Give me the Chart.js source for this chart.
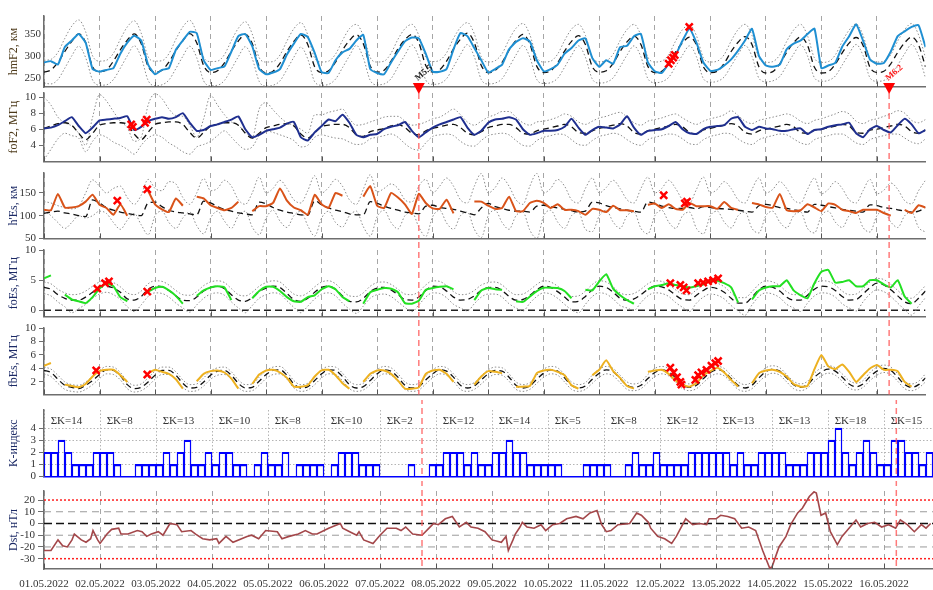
<!DOCTYPE html>
<html>
<head>
<meta charset="utf-8">
<script src="https://cdn.jsdelivr.net/npm/chart.js@4.4.1/dist/chart.umd.min.js"></script>
<style>
  body { margin: 0; background: #fff; width: 933px; height: 590px; overflow: hidden; position: relative; }
  canvas { position: absolute; left: 0; }
</style>
</head>
<body>
<script>
// ---- data: 3-hour samples, 8 per day, 01.05.2022 00 UT .. 16.05.2022 21 UT ----
const dayLabels = ["01.05.2022","02.05.2022","03.05.2022","04.05.2022","05.05.2022","06.05.2022","07.05.2022","08.05.2022",
  "09.05.2022","10.05.2022","11.05.2022","12.05.2022","13.05.2022","14.05.2022","15.05.2022","16.05.2022"];
const dayTicks = [0,1,2,3,4,5,6,7,8,9,10,11,12,13,14,15];

// hmF2, km
const hmObs = [
  285,288,280,320,335,350,330,270, 264,268,272,305,330,346,335,280, 258,268,272,314,335,355,352,290,
  268,272,276,310,345,350,322,270, 258,262,270,303,328,350,343,307, 263,261,290,308,316,335,348,270,
  261,258,285,310,333,342,340,305, 264,264,270,315,352,345,318,290, 262,270,280,315,332,340,333,290,
  265,270,280,305,318,335,340,295, 275,290,282,320,323,345,350,285, 265,261,282,302,335,362,330,285,
  266,268,278,292,312,335,362,300, 278,275,280,315,328,335,350,362, 272,278,284,321,345,372,335,292,
  282,284,310,345,356,366,370,320];
const hmMed = [
  263,268,285,310,333,350,330,275, 264,268,288,314,336,350,328,276, 263,267,286,312,335,351,330,278,
  262,266,284,311,334,349,328,276, 261,265,283,310,333,348,326,275, 262,266,286,313,335,348,328,277,
  263,267,288,316,337,349,330,278, 263,268,288,316,338,352,330,278, 262,267,285,313,335,349,327,276,
  262,266,284,311,333,346,326,275, 263,266,283,310,332,345,326,276, 262,265,282,309,330,343,325,275,
  262,265,283,310,331,344,326,275, 261,264,282,308,330,343,324,274, 261,264,281,307,329,342,324,274,
  262,265,282,308,330,343,325,275];
const hmUp = [
  290,292,308,340,368,382,355,300, 288,290,306,338,366,380,352,298, 288,289,305,338,366,381,352,297,
  287,288,303,335,363,378,350,296, 286,287,302,334,362,376,348,295, 286,288,304,335,362,372,346,296,
  286,288,306,338,362,372,347,297, 287,290,307,340,365,376,350,298, 286,289,305,337,363,374,348,297,
  286,288,304,335,361,372,347,296, 287,289,304,335,360,372,347,297, 286,288,303,334,360,371,346,296,
  286,288,303,334,360,372,347,296, 285,287,302,333,359,372,346,295, 285,287,302,333,359,373,347,295,
  286,288,303,334,360,374,348,296];
const hmLo = [
  238,236,246,272,300,322,296,245, 233,234,246,272,300,323,297,244, 232,234,245,271,299,322,296,243,
  232,233,244,270,298,321,294,242, 231,233,243,269,297,320,293,241, 233,235,247,273,300,324,296,244,
  234,236,248,275,302,325,297,245, 235,237,248,275,303,326,298,246, 236,238,248,274,302,324,297,246,
  237,239,249,274,301,323,297,247, 238,240,250,275,302,323,298,248, 239,241,251,276,302,323,298,248,
  240,242,252,277,303,324,299,249, 241,243,253,278,304,325,300,250, 242,244,254,279,305,326,301,250,
  242,244,254,279,305,326,301,250];
const hmMarkX = [11.25, 11.29, 11.33, 11.36, 11.62];
const hmMarkY = [282, 290, 296, 302, 366];

// foF2, MHz
const foObs = [
  6.1,6.2,6.5,7.0,7.5,6.4,5.5,6.2, 7.1,7.2,7.3,7.4,7.6,5.9,6.3,7.0, 7.3,7.5,7.3,7.5,8.0,6.8,5.8,5.9,
  6.4,6.6,6.9,7.2,7.6,6.0,5.0,5.3, 5.8,6.0,6.2,6.7,6.9,5.0,4.6,5.6, 6.4,7.2,7.0,7.8,6.8,5.3,5.0,5.3,
  5.4,6.0,6.3,6.5,6.9,5.8,5.0,5.6, 6.2,6.6,6.9,7.2,7.5,6.2,5.3,5.8, 6.8,7.2,7.3,7.5,7.2,6.0,5.3,5.5,
  5.8,5.8,5.9,6.3,7.3,6.2,5.3,5.9, 6.3,6.2,6.1,6.6,7.6,6.2,5.3,5.8, 5.9,6.0,6.4,6.9,6.0,5.5,5.4,6.0,
  6.3,6.4,6.5,7.3,7.5,6.3,5.9,6.3, 6.1,6.0,5.8,5.8,6.0,6.1,5.4,5.9, 6.0,6.3,6.5,6.6,6.8,5.5,5.0,6.0,
  6.4,5.9,5.6,6.5,7.3,6.6,5.5,5.9];
const foMed = [
  6.1,6.4,6.7,6.8,6.5,5.5,4.7,5.5, 6.5,6.7,6.8,6.8,6.6,5.4,4.7,5.6, 6.6,6.8,6.9,6.9,6.6,5.6,4.9,5.6,
  6.4,6.6,6.8,6.8,6.5,5.5,4.9,5.5, 6.2,6.4,6.6,6.7,6.4,5.4,4.9,5.6, 6.3,6.5,6.6,6.6,6.2,5.3,5.1,5.7,
  5.9,6.1,6.4,6.6,6.2,5.5,5.3,5.8, 6.1,6.3,6.5,6.6,6.2,5.5,5.3,5.7, 6.2,6.4,6.6,6.6,6.2,5.5,5.4,5.8,
  6.0,6.2,6.4,6.6,6.3,5.6,5.5,5.8, 6.1,6.3,6.5,6.7,6.4,5.6,5.4,5.8, 6.0,6.2,6.4,6.6,6.3,5.6,5.4,5.9,
  6.1,6.3,6.5,6.7,6.4,5.6,5.4,5.8, 6.0,6.2,6.4,6.6,6.3,5.6,5.5,5.9, 6.0,6.2,6.4,6.6,6.4,5.6,5.5,5.9,
  6.0,6.2,6.4,6.6,6.4,5.7,5.5,5.9];
const foUp = [
  10.0,9.0,7.5,6.8,6.4,5.5,4.0,7.5, 10.3,9.5,8.2,7.0,6.2,4.5,5.0,9.0, 10.4,9.8,8.5,7.7,7.6,6.5,5.0,7.3,
  10.2,9.0,7.8,6.9,6.5,5.6,5.0,8.5, 9.3,8.4,7.5,6.8,6.5,6.0,5.5,7.8, 7.8,8.1,8.3,8.5,7.3,6.5,6.6,6.9,
  7.2,7.5,7.6,7.6,7.0,6.5,6.6,6.9, 7.3,7.5,8.0,8.5,7.8,6.9,6.5,7.0, 7.5,7.8,8.2,8.2,7.5,6.8,6.5,6.9,
  7.0,7.2,7.5,7.9,7.6,6.9,6.6,7.0, 7.4,7.6,7.9,8.1,7.5,6.8,6.5,7.0, 7.2,7.4,7.7,7.9,7.4,6.9,6.6,7.0,
  7.3,7.5,7.8,8.3,7.7,7.0,6.7,7.1, 7.3,7.5,7.7,7.9,7.6,7.0,6.7,7.1, 7.3,7.6,7.9,8.2,7.9,7.0,6.7,7.1,
  7.3,7.6,7.9,8.3,8.0,7.1,6.8,7.2];
const foLo = [
  2.2,3.5,4.8,5.5,5.2,4.9,3.2,4.5, 5.3,5.0,4.4,4.0,3.5,2.9,4.0,4.9, 5.3,5.0,4.3,3.8,3.2,2.9,3.8,4.1,
  4.5,5.2,5.8,5.0,4.1,3.5,3.8,5.2, 5.8,5.6,5.3,5.0,4.6,3.8,4.0,5.0, 5.3,5.1,4.9,4.8,4.4,4.1,4.2,4.8,
  5.0,5.2,5.4,5.0,4.2,3.6,3.4,4.3, 5.1,5.3,5.4,5.2,4.5,4.0,3.9,4.6, 5.2,5.4,5.5,5.3,4.6,4.0,3.9,4.6,
  5.0,5.2,5.4,5.3,4.7,4.1,4.0,4.6, 5.1,5.3,5.5,5.3,4.7,4.2,4.0,4.7, 5.0,5.2,5.4,5.3,4.8,4.2,4.1,4.7,
  5.1,5.3,5.5,5.4,4.8,4.3,4.1,4.7, 5.0,5.2,5.4,5.3,4.8,4.3,4.1,4.7, 5.0,5.2,5.4,5.4,4.9,4.3,4.1,4.7,
  5.0,5.2,5.4,5.4,4.9,4.4,4.2,4.8];
const foMarkX = [1.57, 1.60, 1.82, 1.85];
const foMarkY = [6.6, 6.3, 6.8, 7.2];

// h'Es, km
const hesObs = [
  113,112,148,118,118,121,131,146, 124,117,102,125,100,null,null,155, 125,114,108,138,122,null,142,138,
  123,117,112,117,131,null,110,121, 121,128,160,133,118,112,102,146, 125,117,150,144,null,null,142,165,
  122,117,150,140,125,104,148,128, 116,115,135,105,null,null,131,131, 122,115,117,142,110,110,128,133,
  128,117,125,113,113,110,102,115, 113,108,122,112,112,110,null,124, 127,117,125,115,113,128,121,121,
  121,115,130,117,113,null,128,125, 119,118,148,112,110,112,125,118, 110,127,124,113,110,106,113,113,
  113,106,100,null,113,106,123,118];
const hesMed = [
  105,108,110,106,104,100,98,135, 128,118,112,108,105,102,100,128, 130,120,112,108,106,104,102,132,
  128,120,114,110,106,104,102,130, 126,118,112,108,105,102,101,133, 124,117,112,109,104,102,102,131,
  127,121,116,112,108,106,104,121, 123,118,116,114,110,106,102,117, 127,120,116,112,110,110,108,121,
  123,120,117,114,111,108,110,130, 128,122,118,115,112,110,108,130, 127,121,118,116,116,118,115,120,
  118,116,115,114,112,110,108,122, 125,122,118,116,113,110,108,125, 123,120,117,114,112,110,108,124,
  122,118,116,113,110,108,110,118];
const hesUp = [
  131,128,122,118,115,120,150,179, 165,150,160,165,140,125,145,180, 160,155,175,170,140,125,150,182,
  155,160,178,165,135,125,150,185, 150,160,178,160,135,128,155,188, 150,162,180,165,135,125,158,190,
  152,160,170,160,135,130,165,180, 150,165,183,165,135,128,165,193, 150,162,183,165,135,125,165,193,
  150,160,180,165,135,128,160,183, 150,162,178,160,135,128,160,185, 150,160,178,160,135,128,158,185,
  150,158,175,160,135,128,158,183, 150,158,175,160,135,128,158,183, 148,158,175,160,135,128,155,180,
  148,156,172,158,133,126,155,178];
const hesLo = [
  112,100,85,72,85,100,95,100, 110,105,85,70,90,105,80,58, 100,110,85,72,95,108,78,60,
  95,110,88,72,100,110,75,58, 95,112,88,74,100,110,78,55, 95,110,85,75,100,110,76,55,
  98,112,85,71,100,108,75,54, 98,112,84,70,100,108,70,52, 100,112,85,70,100,108,68,50,
  100,112,86,72,100,108,70,65, 100,112,86,72,100,108,72,60, 100,112,86,72,100,108,72,60,
  100,110,86,73,100,108,72,62, 100,110,86,73,100,108,72,62, 100,110,86,74,100,108,74,64,
  100,110,86,74,100,108,74,64];
const hesMarkX = [1.32, 1.86, 11.16, 11.54, 11.58];
const hesMarkY = [133, 158, 145, 127, 131];

// foEs, MHz
const foesObs = [
  5.3,5.8,null,2.6,1.8,1.5,1.2,2.2, 3.6,4.5,4.0,2.2,1.5,null,null,3.1, 3.7,3.9,3.3,2.4,1.1,null,2.4,3.3,
  3.8,4.0,3.8,1.7,null,null,2.0,3.2, 3.9,3.9,3.2,2.2,1.5,1.4,2.2,2.5, 3.5,4.0,3.5,2.2,1.5,null,1.1,3.0,
  3.4,3.7,3.6,3.0,1.2,1.1,1.6,3.4, 3.7,3.9,4.0,3.5,null,null,1.7,3.3, 3.7,3.5,3.4,null,1.5,1.4,2.3,3.2,
  3.75,3.75,3.7,3.2,2.0,null,3.4,3.3, 4.8,6.0,3.6,2.5,1.7,1.1,null,3.5, 4.0,4.2,4.5,4.2,4.0,3.8,4.0,4.3,
  5.0,4.9,4.5,3.8,1.3,null,1.8,3.3, 3.8,4.0,4.0,5.0,3.3,2.5,2.0,4.5, 6.4,6.7,4.6,4.7,5.0,4.0,4.0,5.0,
  5.0,4.3,3.8,5.0,2.3,1.1,null,3.2];
const foesMed = [
  3.8,3.5,2.6,2.0,1.7,1.7,2.2,3.0, 3.75,4.0,3.7,3.0,1.9,1.7,2.3,3.5, 4.0,3.9,3.3,2.4,1.7,1.6,2.2,3.2,
  3.8,4.0,3.6,2.6,1.7,1.5,2.1,3.1, 3.7,4.0,3.8,2.8,1.8,1.5,2.0,3.0, 3.8,4.0,3.5,2.4,1.5,1.4,2.0,3.1,
  3.7,3.8,3.4,2.6,1.8,1.7,2.2,3.3, 4.0,3.9,3.2,2.2,1.7,1.8,2.4,3.3, 3.75,3.8,3.3,2.3,1.7,1.8,2.5,3.4,
  4.0,3.8,3.1,2.2,1.4,1.5,2.3,3.4, 4.0,3.8,3.0,2.0,1.7,1.9,2.6,3.5, 4.0,3.9,3.4,2.5,1.8,1.7,2.5,3.3,
  3.8,3.6,3.0,2.0,1.2,1.2,2.2,3.4, 4.0,3.8,3.2,2.2,1.7,1.7,2.5,3.5, 4.0,3.9,3.3,2.3,1.7,1.8,2.7,3.8,
  4.5,4.2,3.4,2.4,1.4,1.1,2.0,3.2];
const foesUp = [
  4.7,4.4,3.5,2.9,2.6,2.7,3.2,4.0, 4.7,4.9,4.6,3.9,2.9,2.6,3.2,4.4, 4.9,4.8,4.2,3.3,2.6,2.5,3.1,4.1,
  4.7,4.9,4.6,3.6,2.6,2.4,3.0,4.0, 4.6,4.9,4.7,3.7,2.7,2.4,2.9,3.9, 4.7,4.9,4.4,3.3,2.4,2.3,2.9,4.0,
  4.6,4.7,4.3,3.5,2.7,2.6,3.1,4.2, 4.9,4.8,4.1,3.1,2.6,2.7,3.3,4.2, 4.6,4.7,4.2,3.2,2.6,2.7,3.4,4.3,
  4.9,4.7,4.0,3.1,2.3,2.4,3.2,4.3, 4.9,4.7,3.9,2.9,2.6,2.8,3.5,4.4, 4.9,4.8,4.3,3.4,2.7,2.6,3.4,4.2,
  4.7,4.5,3.9,2.9,2.1,2.1,3.1,4.3, 4.9,4.7,4.1,3.1,2.6,2.6,3.4,4.4, 4.9,4.8,4.2,3.2,2.6,2.7,3.6,4.7,
  5.3,5.1,4.3,3.3,2.3,2.0,2.9,4.1];
const foesLo = [
  2.8,2.4,1.4,0.6,-0.4,0.3,1.0,2.0, 2.7,3.0,2.6,1.8,0.6,-0.2,0.9,2.3, 2.9,2.8,2.2,1.2,0.4,-0.3,0.9,2.0,
  2.7,2.9,2.5,1.4,0.4,-0.4,0.8,2.0, 2.6,2.9,2.7,1.6,0.5,-0.4,0.7,1.9, 2.7,2.9,2.4,1.2,0.2,-0.5,0.7,2.0,
  2.6,2.7,2.3,1.4,0.5,-0.2,0.9,2.2, 2.9,2.8,2.1,1.0,0.4,-0.1,1.1,2.2, 2.7,2.7,2.2,1.1,0.4,-0.1,1.2,2.3,
  2.9,2.7,2.0,1.0,0.1,-0.4,1.0,2.3, 2.9,2.7,1.9,0.8,0.4,0.0,1.3,2.4, 2.9,2.8,2.3,1.3,0.5,-0.2,1.2,2.2,
  2.7,2.5,1.9,0.8,-0.1,-0.8,0.9,2.3, 2.9,2.7,2.1,1.0,0.4,-0.2,1.2,2.4, 2.9,2.8,2.2,1.1,0.4,-0.1,1.4,2.7,
  3.4,3.1,2.3,1.2,0.1,-0.8,0.7,2.1];
const foesMarkX = [0.96, 1.10, 1.17, 1.86, 11.28, 11.46, 11.52, 11.57, 11.78, 11.87, 11.96, 12.05, 12.14];
const foesMarkY = [3.6, 4.5, 4.8, 3.1, 4.5, 4.2, 3.8, 3.3, 4.5, 4.6, 4.8, 5.0, 5.3];

// fbEs, MHz
const fbesObs = [
  4.4,4.8,null,1.6,1.4,1.2,1.7,2.8, 3.6,3.8,3.8,3.0,2.0,null,null,3.3, 3.8,3.5,3.2,2.4,1.0,null,2.1,3.2,
  3.6,3.7,3.4,2.5,1.0,null,1.7,3.1, 3.7,3.8,3.4,2.6,1.3,1.3,1.5,2.8, 3.7,3.8,3.0,1.8,1.0,null,2.0,3.2,
  3.7,3.7,3.2,2.2,1.0,1.0,1.2,3.2, 3.7,3.8,3.2,2.0,null,null,1.6,2.8, 3.6,3.5,3.3,null,1.3,1.3,1.4,3.3,
  3.7,3.8,3.5,3.0,1.5,1.0,null,3.0, 3.8,5.2,3.6,2.6,1.4,1.0,null,3.5, 3.7,3.8,3.2,2.2,1.6,1.3,1.8,3.0,
  3.6,4.1,3.4,2.3,1.3,null,1.8,3.3, 3.7,3.8,3.5,2.8,1.7,1.3,1.4,3.9, 6.0,4.3,3.9,4.6,3.5,2.0,3.0,4.0,
  4.5,3.8,3.8,3.6,2.0,1.3,null,2.5];
const fbesMed = [
  3.7,3.4,2.4,1.5,1.2,1.0,1.5,2.2, 3.1,3.8,3.7,2.9,1.6,1.0,1.2,2.0, 3.0,3.7,3.7,3.0,1.8,1.1,1.2,2.0,
  3.0,3.6,3.7,3.0,1.8,1.1,1.2,2.1, 3.1,3.7,3.8,3.0,1.7,1.1,1.3,2.2, 3.2,3.8,3.7,2.8,1.6,1.1,1.3,2.2,
  3.2,3.8,3.6,2.7,1.5,1.1,1.3,2.3, 3.2,3.8,3.6,2.7,1.5,1.1,1.4,2.3, 3.2,3.7,3.6,2.7,1.5,1.1,1.4,2.4,
  3.3,3.8,3.6,2.6,1.5,1.1,1.4,2.4, 3.3,3.8,3.5,2.5,1.5,1.2,1.5,2.5, 3.4,3.8,3.5,2.6,1.6,1.2,1.5,2.5,
  3.4,3.8,3.5,2.5,1.5,1.1,1.5,2.6, 3.5,3.9,3.6,2.6,1.6,1.2,1.6,2.7, 3.5,3.9,3.6,2.7,1.7,1.3,1.7,2.8,
  3.6,4.0,3.7,2.7,1.6,1.2,1.6,2.6];
const fbesUp = [
  4.2,3.9,3.0,2.0,1.6,1.5,2.0,2.8, 3.7,4.3,4.2,3.4,2.1,1.5,1.7,2.6, 3.6,4.2,4.2,3.5,2.3,1.6,1.7,2.6,
  3.6,4.1,4.2,3.5,2.3,1.6,1.7,2.7, 3.7,4.2,4.3,3.5,2.2,1.6,1.8,2.8, 3.8,4.3,4.2,3.3,2.1,1.6,1.8,2.8,
  3.8,4.3,4.1,3.2,2.0,1.6,1.8,2.9, 3.8,4.3,4.1,3.2,2.0,1.6,1.9,2.9, 3.8,4.2,4.1,3.2,2.0,1.6,1.9,3.0,
  3.9,4.3,4.1,3.1,2.0,1.6,1.9,3.0, 3.9,4.3,4.0,3.0,2.0,1.7,2.0,3.1, 4.0,4.3,4.0,3.1,2.1,1.7,2.0,3.1,
  4.0,4.3,4.0,3.0,2.0,1.6,2.0,3.2, 4.1,4.4,4.1,3.1,2.1,1.7,2.1,3.3, 4.1,4.4,4.1,3.2,2.2,1.8,2.2,3.4,
  4.2,4.5,4.2,3.2,2.1,1.7,2.1,3.2];
const fbesLo = [
  3.2,2.8,1.8,0.9,0.6,0.5,0.9,1.6, 2.5,3.2,3.1,2.3,1.0,0.5,0.7,1.4, 2.4,3.1,3.1,2.4,1.2,0.6,0.7,1.4,
  2.4,3.0,3.1,2.4,1.2,0.6,0.7,1.5, 2.5,3.1,3.2,2.4,1.1,0.6,0.8,1.6, 2.6,3.2,3.1,2.2,1.0,0.6,0.8,1.6,
  2.6,3.2,3.0,2.1,0.9,0.6,0.8,1.7, 2.6,3.2,3.0,2.1,0.9,0.6,0.9,1.7, 2.6,3.1,3.0,2.1,0.9,0.6,0.9,1.8,
  2.7,3.2,3.0,2.0,0.9,0.6,0.9,1.8, 2.7,3.2,2.9,1.9,0.9,0.7,1.0,1.9, 2.8,3.2,2.9,2.0,1.0,0.7,1.0,1.9,
  2.8,3.2,2.9,1.9,0.9,0.6,1.0,2.0, 2.9,3.3,3.0,2.0,1.0,0.7,1.1,2.1, 2.9,3.3,3.0,2.1,1.1,0.8,1.2,2.2,
  3.0,3.4,3.1,2.1,1.0,0.7,1.1,2.0];
const fbesMarkX = [0.94, 1.86, 11.28, 11.34, 11.40, 11.46, 11.48, 11.73, 11.78, 11.84, 11.93, 12.02, 12.09, 12.14];
const fbesMarkY = [3.7, 3.1, 4.1, 3.4, 2.7, 2.0, 1.6, 2.3, 3.0, 3.4, 3.8, 4.4, 4.8, 5.1];

// K-index (3-hour) and daily sums
const kIndex = [
  2,2,3,2,1,1,1,2, 2,2,1,0,0,1,1,1, 1,2,1,2,3,1,1,2, 1,2,2,1,1,0,1,2,
  1,1,2,0,1,1,1,1, 0,1,2,2,2,1,1,1, 0,0,0,0,1,0,0,1, 1,2,2,2,1,2,1,1,
  2,2,3,2,2,1,1,1, 1,1,0,0,0,1,1,1, 1,0,0,1,2,1,1,2, 1,1,1,1,2,2,2,2,
  2,2,1,2,1,1,2,2, 2,2,1,1,1,2,2,2, 3,4,2,1,2,3,2,1, 1,3,3,2,2,1,2,1];
const kSums = [14, 8, 13, 10, 8, 10, 2, 12, 14, 5, 8, 12, 13, 13, 18, 15];

// Dst, nT (hour since 01.05.2022 00 UT, value)
const dstHours = [0,3,6,8,10,12,13,16,18,20,21,23,24,27,29,32,33,36,40,42,44,46,49,51,54,57,59,63,65,68,71,74,75,78,81,
  87,89,92,95,100,102,105,109,112,115,117,122,127,128,131,134,135,137,141,144,147,151,153,155,158,162,165,167,169,172,
  175,178,181,183,186,189,192,196,198,199,201,202,204,205,207,210,213,215,218,221,224,228,231,234,237,239,241,243,246,
  251,254,256,259,260,263,266,269,271,275,278,281,284,285,288,290,293,296,299,302,305,308,311,312,315,318,320,323,325,
  328,330,331,333,335,337,340,342,345,348,350,353,356,359,362,365,367,370,373,376,378,380];
const dstValues = [-23,-23,-14,-19,-20,-14,-9,-14,-16,-13,-6,-14,-17,-9,-5,-4,-9,-9,-6,-7,-11,-9,-7,-10,0,-1,
  -7,-6,-9,-13,-14,-13,-17,-11,-16, -11,-10,-13,-6,-7,-13,-11,-9,-6,-9,-9,-4,0,-4,-7,-10,-7,-14,-17,-10,-4,-4,-6,-3,
  -9,-10,-4,0,-1,4,6,-3,1,-3,-4,-7,-14,-16,-11,-23,-14,-9,-3,1,-3,-4,-1,-6,-1,0,4,6,4,9,11,-1,-7,-6,-1,
  0,9,7,1,-4,-11,-13,-17,-11,4,-1,0,-1,4,4,7,6,4,-4,-3,-6,-23,-38,-37,-20,-11,-1,9,13,
  23,27,26,7,9,-7,-18,-11,-4,3,-3,0,1,-3,-1,-4,3,-1,-7,-1,-4,0];
const dstLevels = [20, 10, 0, -10, -20, -30];
const dstLevelKind = ["limit", "grid", "zero", "grid", "grid", "limit"];

// solar flares
const flareDays = [6.75, 15.22];
const flareNames = ["M5.5", "M6.2"];
const flareTextColors = ["#222222", "#ff1a1a"];

// ---- drawing ----
const STEP = 0.125;
const X_MAX = 15.875;
const FONT = "Liberation Serif";
const AXIS = "#6e6e6e";
const GRID = "#a6a6a6";

const pts = arr => arr.map((v, i) => ({ x: i * STEP, y: v }));
const xy = (xs, ys) => xs.map((x, i) => ({ x: x, y: ys[i] }));

function obsSet(arr, color) {
  return { data: pts(arr), borderColor: color, borderWidth: 2, pointRadius: 0, tension: 0.15, order: 1 };
}
function medSet(arr) {
  return { data: pts(arr), borderColor: "#111", borderWidth: 1.3, borderDash: [6, 4], pointRadius: 0,
    cubicInterpolationMode: "monotone", order: 2 };
}
function bndSet(arr) {
  return { data: pts(arr), borderColor: "#8c8c8c", borderWidth: 1, borderDash: [1.5, 2], pointRadius: 0,
    cubicInterpolationMode: "monotone", order: 3 };
}
function markSet(xs, ys) {
  return { data: xy(xs, ys), showLine: false, pointStyle: "crossRot", pointRadius: 5, pointBorderWidth: 2.5,
    pointBorderColor: "#ff0000", pointBackgroundColor: "#ff0000", order: 0 };
}
function levelSet(y, color, width, dash) {
  return { data: [{ x: 0, y: y }, { x: X_MAX, y: y }], borderColor: color, borderWidth: width, borderDash: dash,
    pointRadius: 0, order: 4 };
}

// short solid tick marks inside the bottom axis
const dayTicksIn = {
  id: "dayTicksIn",
  afterDatasetsDraw(chart, args, opts) {
    if (opts.off) return;
    const { ctx, chartArea: a, scales: { x } } = chart;
    ctx.save();
    ctx.strokeStyle = "#555";
    ctx.lineWidth = 1;
    dayTicks.forEach(d => {
      const px = Math.round(x.getPixelForValue(d)) + 0.5;
      ctx.beginPath(); ctx.moveTo(px, a.bottom); ctx.lineTo(px, a.bottom - 5); ctx.stroke();
    });
    ctx.restore();
  }
};

// red dashed flare lines through the lower panels
const flareLines = {
  id: "flareLines",
  afterDatasetsDraw(chart, args, opts) {
    if (!opts.on) return;
    const { ctx, chartArea: a, scales: { x } } = chart;
    ctx.save();
    ctx.strokeStyle = "rgba(255,90,90,0.8)";
    ctx.lineWidth = 1.5;
    ctx.setLineDash([6, 4]);
    flareDays.forEach(d => {
      const px = x.getPixelForValue(d);
      ctx.beginPath(); ctx.moveTo(px, a.top - opts.ext); ctx.lineTo(px, a.bottom); ctx.stroke();
    });
    ctx.restore();
  }
};
Chart.register(dayTicksIn, flareLines);

// triangles + flare names under the hmF2 panel
const flareMarks = {
  id: "flareMarks",
  afterDraw(chart) {
    const { ctx, chartArea: a, scales: { x } } = chart;
    ctx.save();
    flareDays.forEach((d, i) => {
      const px = x.getPixelForValue(d);
      ctx.fillStyle = "#ff0000";
      ctx.beginPath();
      ctx.moveTo(px - 6, a.bottom - 4); ctx.lineTo(px + 6, a.bottom - 4); ctx.lineTo(px, a.bottom + 7);
      ctx.closePath(); ctx.fill();
      ctx.save();
      ctx.translate(px - 1, a.bottom - 6);
      ctx.rotate(-0.7);
      ctx.font = "bold 9px " + FONT;
      ctx.fillStyle = flareTextColors[i];
      ctx.fillText(flareNames[i], 0, 0);
      ctx.restore();
    });
    ctx.restore();
  }
};

// daily sum labels in the K panel
const kSumLabels = {
  id: "kSumLabels",
  afterDatasetsDraw(chart) {
    const { ctx, scales: { x, y } } = chart;
    ctx.save();
    ctx.font = "11px " + FONT;
    ctx.fillStyle = "#333";
    ctx.textBaseline = "middle";
    kSums.forEach((s, d) => {
      const px = x.getPixelForValue(d + 0.12);
      if (px < chart.chartArea.right - 20) ctx.fillText("\u03A3K=" + s, px, y.getPixelForValue(4.55));
    });
    ctx.restore();
  }
};

function makeCanvas(p) {
  const c = document.createElement("canvas");
  c.width = 933;
  c.height = (p.bottom - p.top) + 10 + p.xh;
  c.style.top = (p.top - 10) + "px";
  document.body.appendChild(c);
  return c;
}

function options(p) {
  return {
    responsive: false, animation: false, events: [],
    layout: { padding: { top: 10, left: 0, right: 0, bottom: 0 } },
    plugins: {
      legend: { display: false }, tooltip: { enabled: false },
      dayTicksIn: { off: !!p.noInnerTicks },
      flareLines: { on: p.flareExt !== undefined, ext: p.flareExt || 0 }
    },
    scales: {
      x: {
        type: "linear", min: 0, max: X_MAX, offset: false,
        afterFit: s => { s.height = p.xh; },
        afterBuildTicks: s => { s.ticks = dayTicks.map(v => ({ value: v })); },
        ticks: { display: !!p.xLabels, padding: 9, color: "#333", autoSkip: false, maxRotation: 0,
          font: { family: FONT, size: 11 }, callback: v => dayLabels[v] || "" },
        grid: { color: p.xGridColor || GRID, lineWidth: 1, drawTicks: false, offset: false },
        border: { color: p.axisColor || AXIS, width: 1.5, dash: p.xDash || [5, 4] }
      },
      y: {
        min: p.min, max: p.max,
        afterFit: s => { s.width = 44; },
        afterBuildTicks: s => { s.ticks = p.ticks.map(v => ({ value: v })); },
        ticks: { color: "#333", padding: 3, autoSkip: false, font: { family: FONT, size: 11 } },
        grid: { drawOnChartArea: !!p.yGrid, color: p.yGrid ? "#b4b4b4" : AXIS, tickColor: AXIS,
          tickLength: p.tickLen, drawTicks: p.tickLen > 0 },
        border: { color: AXIS, width: 1.5, dash: p.yGrid ? [1.5, 2] : [] },
        title: { display: true, text: p.title, color: p.titleColor, font: { family: FONT, size: 12 },
          padding: { top: 7, bottom: 0 } }
      }
    }
  };
}

function panel(p, type, datasets, plugins) {
  return new Chart(makeCanvas(p), { type: type, data: { datasets: datasets }, options: options(p), plugins: plugins || [] });
}

const BROWN = "#4d3a1a", NAVY = "#1c2a66";

panel({ top: 16, bottom: 87, xh: 12, min: 229, max: 391, ticks: [250, 300, 350], title: "hmF2, км",
  titleColor: BROWN, tickLen: 0 },
  "line", [markSet(hmMarkX, hmMarkY), obsSet(hmObs, "#1f8fd2"), medSet(hmMed), bndSet(hmUp), bndSet(hmLo)],
  [flareMarks]);

panel({ top: 93, bottom: 165, xh: 6, min: 2, max: 10.5, ticks: [4, 6, 8, 10], title: "foF2, МГц",
  titleColor: BROWN, tickLen: 5, flareExt: 0 },
  "line", [markSet(foMarkX, foMarkY), obsSet(foObs, "#1f2f8f"), medSet(foMed), bndSet(foUp), bndSet(foLo)]);

panel({ top: 173, bottom: 242, xh: 6, min: 50, max: 194, ticks: [50, 100, 150], title: "h'Es, км",
  titleColor: NAVY, tickLen: 5, flareExt: 8 },
  "line", [markSet(hesMarkX, hesMarkY), obsSet(hesObs, "#d95319"), medSet(hesMed), bndSet(hesUp), bndSet(hesLo)]);

panel({ top: 250, bottom: 320, xh: 6, min: -1, max: 10, ticks: [0, 5, 10], title: "foEs, МГц",
  titleColor: NAVY, tickLen: 5, flareExt: 8 },
  "line", [markSet(foesMarkX, foesMarkY), obsSet(foesObs, "#22e022"), medSet(foesMed), bndSet(foesUp), bndSet(foesLo),
    levelSet(0, "#222", 1.5, [7, 4])]);

panel({ top: 328, bottom: 398, xh: 6, min: 0.15, max: 10, ticks: [2, 4, 6, 8, 10], title: "fbEs, МГц",
  titleColor: NAVY, tickLen: 5, flareExt: 8 },
  "line", [markSet(fbesMarkX, fbesMarkY), obsSet(fbesObs, "#edb120"), medSet(fbesMed), bndSet(fbesUp), bndSet(fbesLo)]);

panel({ top: 410, bottom: 480, xh: 6, min: 0, max: 5.5, ticks: [0, 1, 2, 3, 4], title: "K-индекс",
  titleColor: NAVY, tickLen: 5, flareExt: 12, yGrid: true, xDash: [1.5, 2], xGridColor: "#b4b4b4",
  axisColor: "#0000ff", noInnerTicks: true },
  "bar", [{ data: kIndex.map((v, i) => ({ x: i * STEP + STEP / 2, y: v })), backgroundColor: "rgba(0,0,0,0)",
    borderColor: "#0000ff", borderWidth: { top: 1.5, left: 0.75, right: 0.75, bottom: 0 }, borderSkipped: false,
    barPercentage: 1, categoryPercentage: 1 }],
  [kSumLabels]);

const levelStyle = { limit: ["#ff2020", 1.5, [2, 2]], grid: ["#9a9a9a", 1, [7, 5]], zero: ["#111", 1.5, [8, 4]] };
panel({ top: 491, bottom: 569, xh: 24, min: -38.8, max: 27.7, ticks: [-30, -20, -10, 0, 10, 20], title: "Dst, нТл",
  titleColor: NAVY, tickLen: 6, flareExt: 11, xLabels: true },
  "line", [{ data: dstHours.map((h, i) => ({ x: h / 24, y: dstValues[i] })), borderColor: "#a3474a", borderWidth: 1.6,
    pointRadius: 0, tension: 0, order: 1 }]
    .concat(dstLevels.map((l, i) => { const s = levelStyle[dstLevelKind[i]]; return levelSet(l, s[0], s[1], s[2]); })));
</script>
</body>
</html>
